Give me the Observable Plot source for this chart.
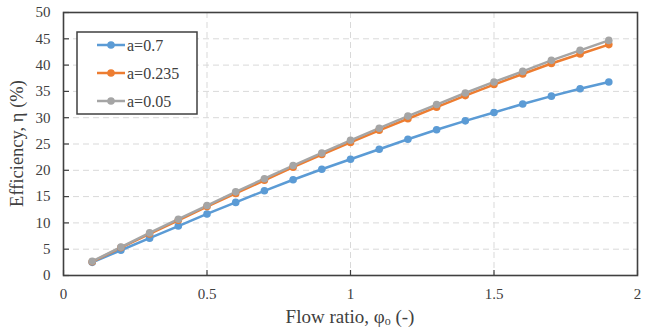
<!DOCTYPE html>
<html>
<head>
<meta charset="utf-8">
<script src="https://cdn.jsdelivr.net/npm/d3@7"></script>
<script src="https://cdn.jsdelivr.net/npm/@observablehq/plot@0.6"></script>
<style>
  html, body { margin: 0; padding: 0; background: #fff; }
  #chart { position: relative; width: 649px; height: 329px; }
</style>
</head>
<body>
<div id="chart"></div>
<script>
// ---- data ----
const flowRatio = [0.1, 0.2, 0.3, 0.4, 0.5, 0.6, 0.7, 0.8, 0.9, 1.0, 1.1, 1.2, 1.3, 1.4, 1.5, 1.6, 1.7, 1.8, 1.9];
const effA07   = [2.5, 4.8, 7.1, 9.4, 11.7, 13.9, 16.1, 18.2, 20.2, 22.1, 24.0, 25.9, 27.7, 29.4, 31.0, 32.6, 34.1, 35.5, 36.8];
const effA0235 = [2.6, 5.3, 7.9, 10.5, 13.1, 15.6, 18.1, 20.6, 23.0, 25.3, 27.6, 29.8, 32.0, 34.2, 36.3, 38.3, 40.3, 42.1, 43.9];
const effA005  = [2.7, 5.4, 8.1, 10.7, 13.3, 15.9, 18.4, 20.9, 23.3, 25.7, 28.0, 30.3, 32.5, 34.7, 36.8, 38.8, 40.9, 42.8, 44.7];
const seriesNames = ["a=0.7", "a=0.235", "a=0.05"];
const seriesColors = ["#5B9BD5", "#ED7D31", "#A5A5A5"];
const xTicks = [0, 0.5, 1, 1.5, 2];
const yTicks = [0, 5, 10, 15, 20, 25, 30, 35, 40, 45, 50];
const xTitle = ["Flow ratio, φ", "o", " (-)"];
const yTitle = "Efficiency, η (%)";

const seriesValues = [effA07, effA0235, effA005];
const rows = seriesNames.flatMap((name, i) =>
  flowRatio.map((x, j) => ({ series: name, x, y: seriesValues[i][j] })));

const FONT = "'Liberation Serif', 'Times New Roman', serif";
const TEXT = "#404040";

const mLeft = 63, mRight = 12, mTop = 12, mBottom = 54, W = 649, H = 329;

const svg = Plot.plot({
  width: W, height: H,
  marginLeft: mLeft, marginRight: mRight, marginTop: mTop, marginBottom: mBottom,
  style: { fontFamily: FONT, fontSize: "15px", color: TEXT, background: "#fff" },
  x: { domain: [0, 2] },
  y: { domain: [0, 50] },
  color: { domain: seriesNames, range: seriesColors },
  marks: [
    Plot.gridX(xTicks.filter(d => d > 0 && d < 2), { stroke: "#d9d9d9", strokeOpacity: 1, strokeWidth: 1, strokeDasharray: "6,4" }),
    Plot.gridY(yTicks.filter(d => d > 0 && d < 50), { stroke: "#d9d9d9", strokeOpacity: 1, strokeWidth: 1, strokeDasharray: "6,4" }),
    Plot.axisX(xTicks, { tickSize: 0, tickPadding: 13, label: null, tickFormat: d => String(d), fill: TEXT, fontSize: 15 }),
    Plot.axisY(yTicks, { tickSize: 0, tickPadding: 13, label: null, tickFormat: d => String(d), fill: TEXT, fontSize: 15 }),
    // inward tick marks
    Plot.tickX(xTicks, { x: d => d, stroke: "#404040", strokeWidth: 1.2, insetTop: H - mTop - mBottom - 5 }),
    Plot.tickY(yTicks, { y: d => d, stroke: "#404040", strokeWidth: 1.2, insetRight: W - mLeft - mRight - 6 }),
    Plot.line(rows, { x: "x", y: "y", z: "series", stroke: "series", strokeWidth: 2.5 }),
    Plot.dot(rows, { x: "x", y: "y", fill: "series", r: 3.8, stroke: "none" }),
    Plot.frame({ stroke: "#404040", strokeWidth: 1.6 })
  ]
});

const s = d3.select(svg);

// axis titles
const xt = s.append("text")
  .attr("x", mLeft + (W - mLeft - mRight) / 2)
  .attr("y", 322.5)
  .attr("text-anchor", "middle")
  .attr("font-family", FONT)
  .attr("font-size", 19)
  .attr("fill", TEXT);
xt.append("tspan").text(xTitle[0]);
xt.append("tspan").attr("font-size", 12).attr("dy", 2.5).text(xTitle[1]);
xt.append("tspan").attr("dy", -2.5).text(xTitle[2]);

s.append("text")
  .attr("transform", `translate(19,${mTop + (H - mTop - mBottom) / 2}) rotate(-90)`)
  .attr("text-anchor", "middle")
  .attr("dominant-baseline", "middle")
  .attr("font-family", FONT)
  .attr("font-size", 18.5)
  .attr("fill", TEXT)
  .text(yTitle);

// legend
const lg = s.append("g").attr("transform", "translate(77,32)");
lg.append("rect").attr("width", 120).attr("height", 82)
  .attr("fill", "#fff").attr("stroke", "#404040").attr("stroke-width", 1.5);
seriesNames.forEach((name, i) => {
  const cy = 13 + i * 28;
  lg.append("line").attr("x1", 20).attr("x2", 48).attr("y1", cy).attr("y2", cy)
    .attr("stroke", seriesColors[i]).attr("stroke-width", 2.5);
  lg.append("circle").attr("cx", 34).attr("cy", cy).attr("r", 3.8).attr("fill", seriesColors[i]);
  lg.append("text").attr("x", 50).attr("y", cy).attr("dy", "0.35em")
    .attr("text-anchor", "start")
    .attr("font-family", FONT).attr("font-size", 16).attr("fill", TEXT).text(name);
});

document.getElementById("chart").appendChild(svg);
</script>
</body>
</html>
